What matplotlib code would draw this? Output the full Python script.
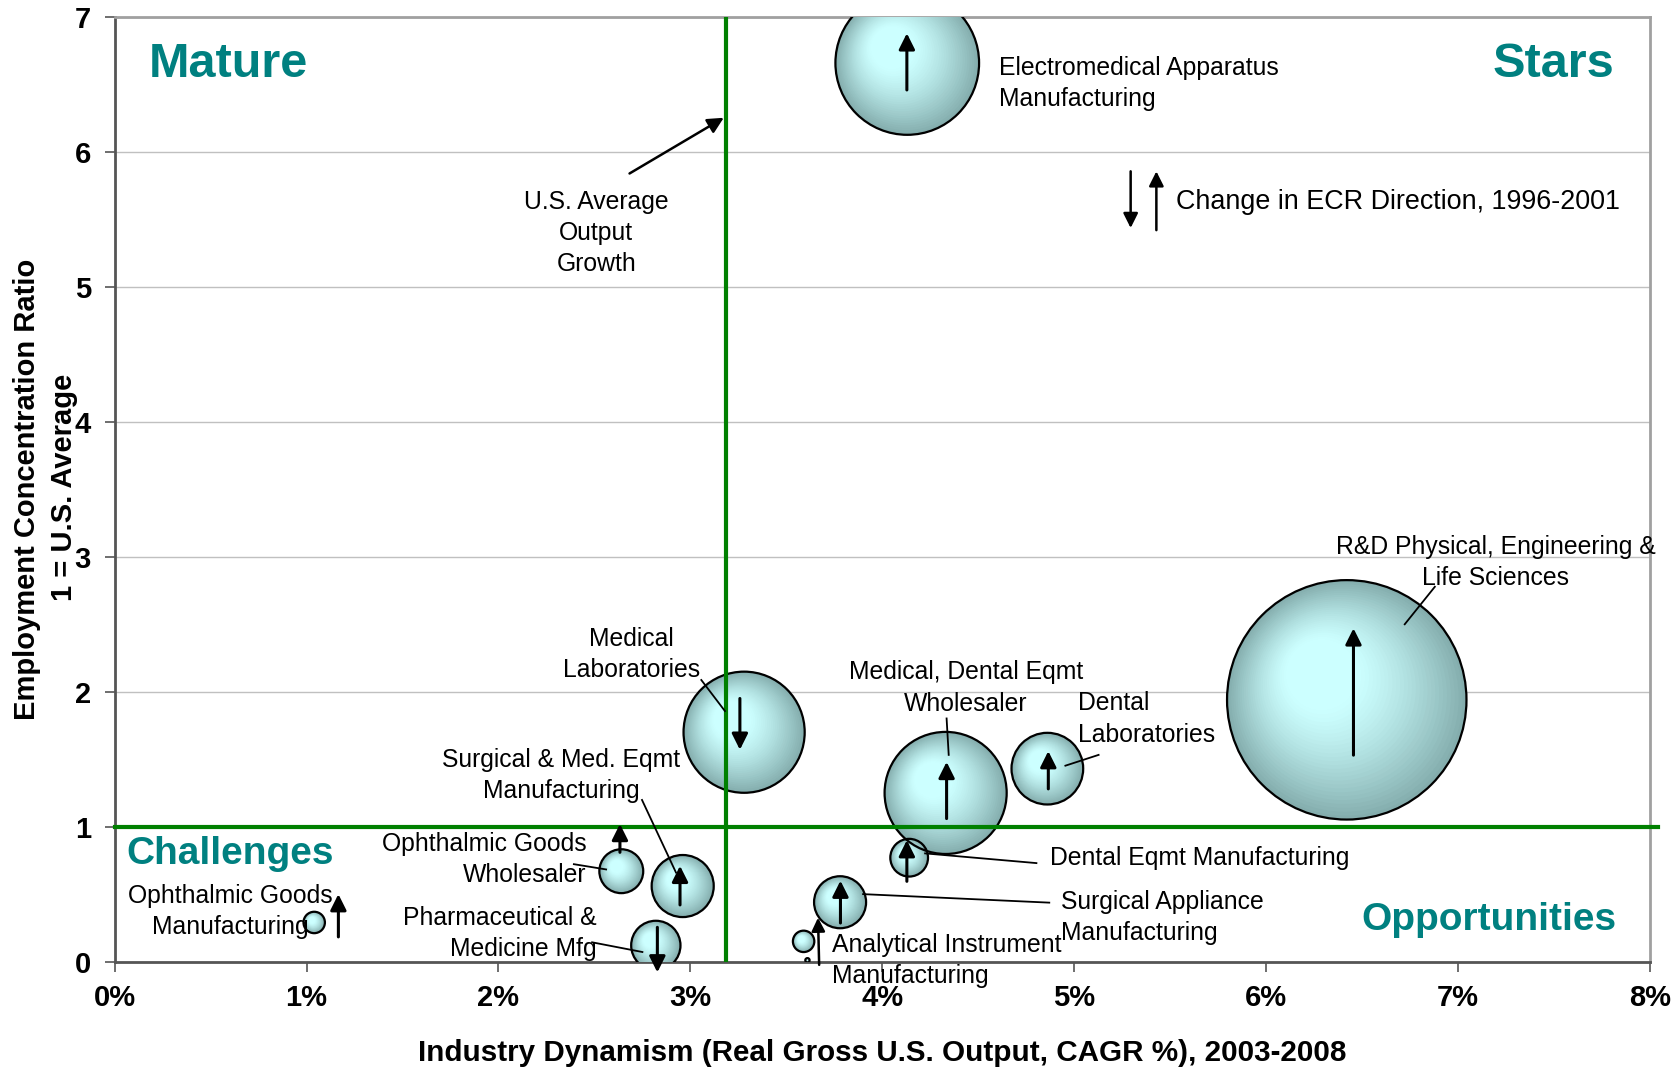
import numpy as np
import matplotlib
matplotlib.use("Agg")
from matplotlib import pyplot as plt
from matplotlib.transforms import ScaledTranslation

plt.rcParams['font.family'] = ['Liberation Sans', 'DejaVu Sans']

# industries (bubble chart data)
industries = [
    "Electromedical Apparatus\nManufacturing",
    "R&D Physical, Engineering &\nLife Sciences",
    "Medical\nLaboratories",
    "Medical, Dental Eqmt\nWholesaler",
    "Dental\nLaboratories",
    "Dental Eqmt Manufacturing",
    "Surgical Appliance\nManufacturing",
    "Analytical Instrument\nManufacturing",
    "",
    "Surgical & Med. Eqmt\nManufacturing",
    "Ophthalmic Goods\nWholesaler",
    "Pharmaceutical &\nMedicine Mfg",
    "Ophthalmic Goods\nManufacturing",
]
output_growth = [4.13, 6.42, 3.28, 4.33, 4.86, 4.14, 3.78, 3.59, 3.61, 2.96, 2.64, 2.82, 1.04]
ecr = [6.66, 1.94, 1.70, 1.25, 1.43, 0.77, 0.44, 0.15, 0.01, 0.56, 0.67, 0.12, 0.29]
employment = [45, 125, 32, 32.5, 11.2, 3.1, 5.9, 1.0, 0.04, 8.4, 4.2, 5.3, 1.0]
ecr_change = ['up', 'up', 'down', 'up', 'up', 'up', 'up', None, None, 'up', 'up', 'down', 'up']

us_avg_growth = 3.185
us_avg_ecr = 1.0

x_ticks = [0, 1, 2, 3, 4, 5, 6, 7, 8]
x_ticklabels = ["0%", "1%", "2%", "3%", "4%", "5%", "6%", "7%", "8%"]
y_ticks = [0, 1, 2, 3, 4, 5, 6, 7]

# layout of annotations: arrow x, arrow start y, arrow end y
arrow_pos = [
    (4.128, 6.46, 6.88), (6.455, 1.53, 2.47), (3.258, 1.95, 1.57), (4.335, 1.06, 1.48),
    (4.865, 1.28, 1.56), (4.128, 0.595, 0.90), (3.782, 0.286, 0.60), None, None,
    (2.946, 0.42, 0.71), (2.633, 0.81, 1.02), (2.828, 0.254, -0.08), (1.166, 0.183, 0.50),
]
# label position, alignment, leader line
label_pos = [
    (4.608, 6.51, 'left', None),
    (7.197, 2.956, 'center', ((6.879, 2.778), (6.722, 2.50))),
    (2.695, 2.274, 'center', ((3.057, 2.087), (3.18, 1.857))),
    (4.435, 2.028, 'center', ((4.335, 1.802), (4.346, 1.532))),
    (5.021, 1.798, 'left', ((5.127, 1.532), (4.954, 1.452))),
    (4.876, 0.770, 'left', ((4.803, 0.730), (4.223, 0.802))),
    (4.932, 0.325, 'left', ((4.870, 0.437), (3.90, 0.50))),
    (3.738, 0.008, 'left', None),
    None,
    (2.326, 1.377, 'center', ((2.748, 1.198), (2.925, 0.66))),
    (2.460, 0.754, 'right', ((2.393, 0.722), (2.561, 0.683))),
    (2.510, 0.210, 'right', ((2.488, 0.143), (2.750, 0.071))),
    (0.6025, 0.369, 'center', None),
]

fig = plt.figure(figsize=(16.79, 10.69), dpi=100)
ax = fig.add_axes([114.6 / 1679, 1 - 961.6 / 1069, (1650 - 114.6) / 1679, (961.6 - 17.1) / 1069])

edge_rgb = np.array([0x84, 0xad, 0xad]) / 255
core_rgb = np.array([0xcc, 0xff, 0xff]) / 255
n_layers = 40

for x, y, v in zip(output_growth, ecr, employment):
    r_pt = 7.71 * np.sqrt(v)
    for k in range(n_layers):
        f = 1 - k / n_layers
        t = np.clip((f - 0.3) / 0.7, 0, 1) ** 1.3
        col = core_rgb + (edge_rgb - core_rgb) * t
        dx = -(1 - f) * 0.3 * r_pt
        dy = (1 - f) * 0.3 * r_pt
        tr = ax.transData + ScaledTranslation(dx / 72, dy / 72, fig.dpi_scale_trans)
        ax.scatter([x], [y], s=(2 * f * r_pt) ** 2, color=col, edgecolors='none',
                   transform=tr, zorder=3)
    ax.scatter([x], [y], s=(2 * r_pt) ** 2, facecolors='none', edgecolors='black',
               linewidths=1.6, zorder=3.1)

# U.S. average lines
ax.plot([us_avg_growth, us_avg_growth], [0, 7], color='#008000', lw=3, zorder=5)
ax.plot([0, 8.04], [us_avg_ecr, us_avg_ecr], color='#008000', lw=3, zorder=5, clip_on=False)

arrow_style = dict(arrowstyle='-|>', color='black', lw=2.2, mutation_scale=24,
                   shrinkA=0, shrinkB=0)
for d, pos in zip(ecr_change, arrow_pos):
    if d is None or pos is None:
        continue
    ax.annotate('', xy=(pos[0], pos[2]), xytext=(pos[0], pos[1]),
                arrowprops=arrow_style, zorder=6, annotation_clip=False)

for name, lp in zip(industries, label_pos):
    if lp is None:
        continue
    ax.text(lp[0], lp[1], name, ha=lp[2], va='center', fontsize=17.8,
            linespacing=1.38, zorder=7, multialignment=lp[2])
    if lp[3] is not None:
        (x0, y0), (x1, y1) = lp[3]
        ax.plot([x0, x1], [y0, y1], color='black', lw=1.3, zorder=6)

# analytical instrument leader arrow
ax.annotate('', xy=(3.665, 0.325), xytext=(3.671, -0.024),
            arrowprops=dict(arrow_style, lw=1.8, mutation_scale=20), zorder=6,
            annotation_clip=False)

# U.S. average output growth note
ax.text(2.510, 5.401, "U.S. Average\nOutput\nGrowth", ha='center', va='center',
        fontsize=17.8, linespacing=1.38, zorder=7)
ax.annotate('', xy=(3.174, 6.254), xytext=(2.683, 5.841),
            arrowprops=dict(arrow_style, lw=1.8, mutation_scale=24), zorder=6)

# legend for arrows
ax.annotate('', xy=(5.294, 5.437), xytext=(5.294, 5.857),
            arrowprops=dict(arrow_style, lw=1.8, mutation_scale=22), zorder=6)
ax.annotate('', xy=(5.428, 5.857), xytext=(5.428, 5.421),
            arrowprops=dict(arrow_style, lw=1.8, mutation_scale=22), zorder=6)
ax.text(5.529, 5.627, "Change in ECR Direction, 1996-2001", ha='left', va='center',
        fontsize=19.4, zorder=7)

# quadrant names
teal = '#008080'
ax.text(0.1785, 6.65, "Mature", ha='left', va='center', fontsize=35,
        fontweight='bold', color=teal, zorder=7)
ax.text(7.816, 6.65, "Stars", ha='right', va='center', fontsize=35,
        fontweight='bold', color=teal, zorder=7)
ax.text(0.061, 0.795, "Challenges", ha='left', va='center', fontsize=28,
        fontweight='bold', color=teal, zorder=7)
ax.text(7.827, 0.31, "Opportunities", ha='right', va='center', fontsize=28,
        fontweight='bold', color=teal, zorder=7)

ax.set_xlim(0, 8)
ax.set_ylim(0, 7)
ax.set_xticks(x_ticks)
ax.set_xticklabels(x_ticklabels, fontsize=21, fontweight='bold')
ax.set_yticks(y_ticks)
ax.set_yticklabels([str(v) for v in y_ticks], fontsize=21, fontweight='bold')
ax.tick_params(axis='x', direction='out', length=7, width=1.2, color='#555555', pad=9)
ax.tick_params(axis='y', direction='out', length=7, width=1.2, color='#555555', pad=10)
ax.yaxis.grid(True, color='#c0c0c0', lw=1)
ax.set_axisbelow(True)
for side in ['left', 'bottom']:
    ax.spines[side].set_color('#555555')
    ax.spines[side].set_linewidth(2)
for side in ['top', 'right']:
    ax.spines[side].set_color('#a0a0a0')
    ax.spines[side].set_linewidth(2)

fig.text((114.6 + 1650) / 2 / 1679, 1 - 1052.6 / 1069,
         "Industry Dynamism (Real Gross U.S. Output, CAGR %), 2003-2008",
         ha='center', va='center', fontsize=21.3, fontweight='bold')
fig.text(27 / 1679, 1 - 489 / 1069, "Employment Concentration Ratio", rotation=90,
         ha='center', va='center', fontsize=21, fontweight='bold')
fig.text(64 / 1679, 1 - 487 / 1069, "1 = U.S. Average", rotation=90,
         ha='center', va='center', fontsize=21, fontweight='bold')

fig.savefig("out.png", dpi=100)
